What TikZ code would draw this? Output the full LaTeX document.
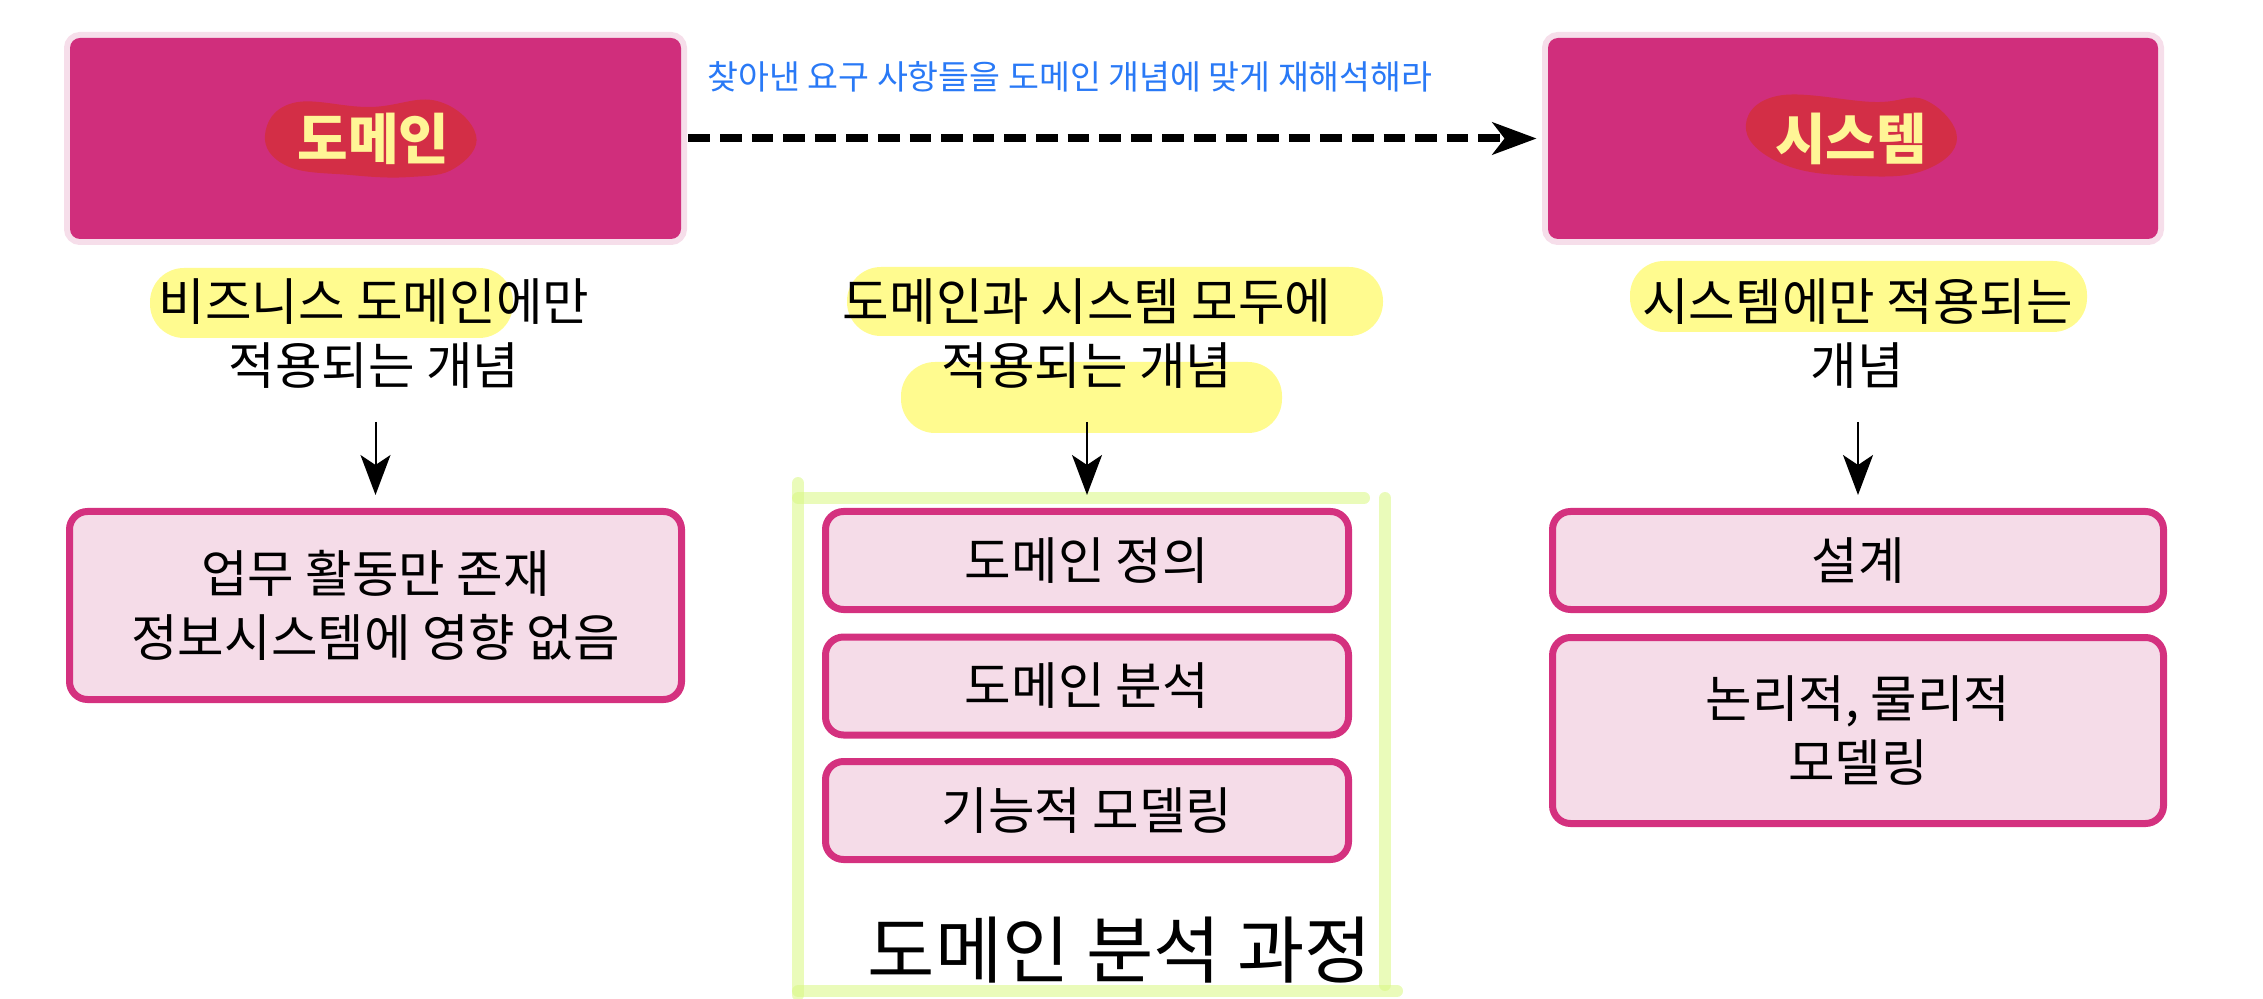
\documentclass[tikz,border=0pt]{standalone}
\usepackage{fontspec}
\setmainfont{Noto Sans CJK KR}
\usetikzlibrary{arrows.meta}
\definecolor{topmag}{RGB}{208,46,124}
\definecolor{glow}{RGB}{246,222,234}
\definecolor{blobred}{RGB}{211,46,70}
\definecolor{blobtxt}{RGB}{255,245,150}
\definecolor{boxfill}{RGB}{245,220,232}
\definecolor{boxline}{RGB}{212,49,127}
\definecolor{hl}{RGB}{255,251,143}
\definecolor{hlgreen}{RGB}{216,248,130}
\definecolor{bluetxt}{RGB}{41,121,246}
\tikzset{
  topbox/.style={fill=topmag, rounded corners=5pt, inner sep=0pt,
    preaction={draw=glow, line width=6pt, rounded corners=5pt}},
  lowbox/.style={draw=boxline, fill=boxfill, line width=3.5pt, rounded corners=9pt,
    inner sep=0pt, align=center, font=\fontsize{25.3pt}{32pt}\selectfont},
  lbl/.style={inner sep=0pt, align=center, font=\fontsize{25.3pt}{32pt}\selectfont},
  blobtext/.style={inner sep=0pt, text=blobtxt, font=\fontsize{27.5pt}{30pt}\selectfont\bfseries},
  hilite/.style={fill=hl, rounded corners=17pt},
  greenline/.style={draw=hlgreen, draw opacity=0.55, line width=6pt, line cap=round},
  thinarrow/.style={draw=black, line width=1pt, -{Stealth[length=20pt, width=15pt, inset=5pt]}},
  dasharrow/.style={draw=black, line width=4pt, dash pattern=on 10.8pt off 5pt,
    -{Stealth[length=22pt, width=16pt, inset=6pt]}}
}
\begin{document}
\begin{tikzpicture}[x=0.5pt, y=-0.5pt]
\useasboundingbox (0,0) rectangle (2263,999);

% top boxes
\node[topbox, minimum width=305.5pt, minimum height=100.5pt] (dom) at (375.5,138.5) {};
\node[topbox, minimum width=305pt, minimum height=100.5pt] (sys) at (1853,138.5) {};
\fill[blobred] plot[smooth cycle, tension=0.7] coordinates
  {(265,135) (293,103) (370,107) (437,101) (476,135) (455,168) (410,177) (350,175) (287,166)};
\fill[blobred] plot[smooth cycle, tension=0.7] coordinates
  {(1746,130) (1777,96) (1874,102) (1925,100) (1957,138) (1925,170) (1860,176) (1785,165)};
\node[blobtext] (domt) at (373.5,139) {도메인};
\node[blobtext] (syst) at (1851,139) {시스템};

% dashed arrow and its label
\draw[dasharrow, shorten <=3.5pt, shorten >=5.5pt] (dom.east) -- (sys.west);
\node[anchor=base, inner sep=0pt, text=bluetxt, font=\fontsize{16.8pt}{20pt}\selectfont] (req) at (1070,90)
  {찾아낸 요구 사항들을 도메인 개념에 맞게 재해석해라};

% highlights
\fill[hilite] (150,268) rectangle (513,338);
\fill[hilite] (847,267) rectangle (1383,336);
\fill[hilite] (901,362) rectangle (1282,433);
\fill[hilite] (1630,261) rectangle (2087,332);

% labels
\node[lbl] (lab1) at (374,333.5) {비즈니스 도메인에만\\적용되는 개념};
\node[lbl] (lab2) at (1087,333.5) {도메인과 시스템 모두에\\적용되는 개념};
\node[lbl] (lab3) at (1857.5,333.5) {시스템에만 적용되는\\개념};

% green bracket
\draw[greenline] (798,483) -- (798,995);
\draw[greenline] (798,498) -- (1364,498);
\draw[greenline] (1385,498) -- (1385,985);
\draw[greenline] (798,991) -- (1397,991);

% lower boxes
\node[lowbox, minimum width=306pt, minimum height=94pt] (b1) at (375.5,605.5) {업무 활동만 존재\\정보시스템에 영향 없음};
\node[lowbox, minimum width=261.5pt, minimum height=49pt] (m1) at (1087,560.5) {도메인 정의};
\node[lowbox, minimum width=261.5pt, minimum height=49pt] (m2) at (1087,686) {도메인 분석};
\node[lowbox, minimum width=261.5pt, minimum height=49pt] (m3) at (1087,810.5) {기능적 모델링};
\node[lowbox, minimum width=305.5pt, minimum height=49pt] (r1) at (1858,560.5) {설계};
\node[lowbox, minimum width=305.5pt, minimum height=93pt] (r2) at (1858,730.5) {논리적, 물리적\\모델링};

\node[anchor=base, inner sep=0pt, font=\fontsize{36.6pt}{40pt}\selectfont] (proc) at (1120,977) {도메인 분석 과정};

% arrows
\draw[thinarrow, shorten <=16.5pt, shorten >=6.5pt] (lab1.south -| b1.north) -- (b1.north);
\draw[thinarrow, shorten <=16.5pt, shorten >=6.5pt] (lab2.south -| m1.north) -- (m1.north);
\draw[thinarrow, shorten <=16.5pt, shorten >=6.5pt] (lab3.south -| r1.north) -- (r1.north);
\end{tikzpicture}
\end{document}
